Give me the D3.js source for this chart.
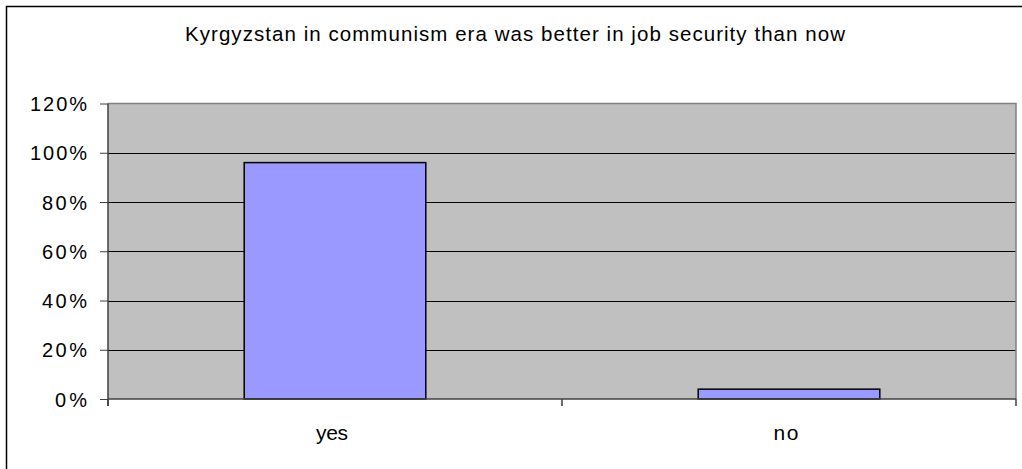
<!DOCTYPE html>
<html>
<head>
<meta charset="utf-8">
<script src="https://cdn.jsdelivr.net/npm/d3@7"></script>
<style>
  html, body { margin: 0; padding: 0; background: #fff; }
  svg { display: block; }
  text { font-family: "Liberation Sans", Arial, sans-serif; fill: #000; }
</style>
</head>
<body>
<svg id="chart" width="1022" height="469"></svg>
<script>
const title = "Kyrgyzstan in communism era was better in job security than now";
const categories = ["yes", "no"];
const values = [0.96, 0.04];
const yTicks = [0, 0.2, 0.4, 0.6, 0.8, 1.0, 1.2];

const svg = d3.select("#chart");
const W = 1022, H = 469;
const m = { left: 108, right: 1016, top: 103.5, bottom: 399 };

// outer frame
svg.append("rect").attr("x", 6.5).attr("y", 6.5).attr("width", W + 20).attr("height", H + 20)
  .attr("fill", "#fff").attr("stroke", "#000").attr("stroke-width", 1.5);

const x = d3.scaleBand().domain(categories).range([m.left, m.right]).paddingInner(0.6).paddingOuter(0.3);
const xb = d3.scaleBand().domain(categories).range([m.left, m.right]);
const y = d3.scaleLinear().domain([0, 1.2]).range([m.bottom, m.top]);

// plot background
svg.append("rect").attr("x", m.left).attr("y", m.top).attr("width", m.right - m.left).attr("height", m.bottom - m.top)
  .attr("fill", "#C0C0C0");

// gridlines
svg.append("g").selectAll("line").data(yTicks.filter(d => d > 0 && d < 1.2)).join("line")
  .attr("x1", m.left).attr("x2", m.right)
  .attr("y1", d => Math.round(y(d)) + 0.5).attr("y2", d => Math.round(y(d)) + 0.5)
  .attr("stroke", "#000").attr("stroke-width", 1);

// plot border top/right
svg.append("path")
  .attr("d", `M${m.left},${m.top}H${m.right}V${m.bottom}`)
  .attr("fill", "none").attr("stroke", "#808080").attr("stroke-width", 1.5);

// bars
svg.append("g").selectAll("rect").data(values).join("rect")
  .attr("x", (d, i) => x(categories[i]))
  .attr("width", x.bandwidth())
  .attr("y", d => y(d))
  .attr("height", d => y(0) - y(d))
  .attr("fill", "#9999FF").attr("stroke", "#000").attr("stroke-width", 1.5);

// y axis
const yAxis = d3.axisLeft(y).tickValues(yTicks).tickFormat(d3.format(".0%")).tickSize(8).tickPadding(13);
const gy = svg.append("g").attr("transform", `translate(${m.left},0)`).call(yAxis);
gy.select(".domain").attr("stroke", "#404040").attr("stroke-width", 1.5).attr("d", `M0,${m.top}V${m.bottom + 7}`);
gy.selectAll(".tick line").attr("stroke", "#404040");
gy.selectAll(".tick text").attr("font-size", 20).attr("font-family", "Liberation Sans, Arial, sans-serif")
  .attr("fill", "#000").attr("dy", "0.36em")
  .each(function(d) { const s = d3.format(".0%")(d); this.setAttribute("textLength", s.length === 4 ? 57 : s.length === 3 ? 45 : 32); this.setAttribute("lengthAdjust", "spacing"); });

// x axis
const gx = svg.append("g").attr("transform", `translate(0,${m.bottom})`);
gx.append("line").attr("x1", m.left).attr("x2", m.right).attr("y1", 0).attr("y2", 0)
  .attr("stroke", "#404040").attr("stroke-width", 1.5);
const xTickPos = [m.left, ...categories.slice(1).map(c => xb(c)), m.right];
gx.selectAll("line.t").data(xTickPos).join("line").attr("class", "t")
  .attr("x1", d => d).attr("x2", d => d).attr("y1", 0).attr("y2", 7)
  .attr("stroke", "#404040").attr("stroke-width", 1.5);
gx.selectAll("text").data(categories).join("text")
  .attr("x", d => xb(d) + xb.bandwidth() / 2 - 3)
  .attr("y", 41)
  .attr("text-anchor", "middle").attr("font-size", 21)
  .attr("textLength", d => d === "yes" ? 32 : 25).attr("lengthAdjust", "spacing")
  .text(d => d);

// title
svg.append("text").attr("x", 515).attr("y", 41).attr("text-anchor", "middle")
  .attr("font-size", 20.5).attr("textLength", 660).attr("lengthAdjust", "spacing")
  .text(title);
</script>
</body>
</html>
